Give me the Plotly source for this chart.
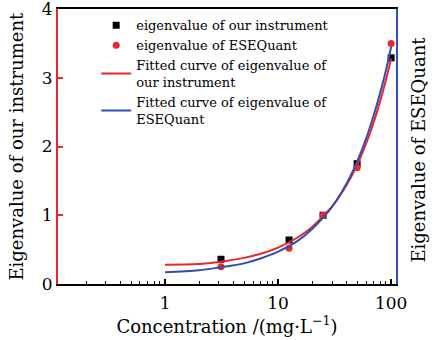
import plotly.graph_objects as go

# Measured points
conc = [3.125, 12.5, 25, 50, 100]
our_instrument = [0.36, 0.64, 1.00, 1.75, 3.29]
esequant = [0.25, 0.52, 1.00, 1.69, 3.50]

# Fitted curves
fit_x = [1, 2, 3, 5, 7, 10, 15, 20, 30, 40, 50, 60, 70, 80, 90, 100]
fit_our = [0.28, 0.29, 0.32, 0.38, 0.44, 0.53, 0.68, 0.83, 1.13, 1.43, 1.73, 2.04, 2.35, 2.66, 2.97, 3.28]
fit_ese = [0.17, 0.20, 0.24, 0.30, 0.37, 0.47, 0.63, 0.80, 1.12, 1.45, 1.78, 2.11, 2.45, 2.78, 3.11, 3.45]
y_ticks = [0, 1, 2, 3, 4]

RED = "#e8262b"
BLUE = "#2f4fb5"
FONT = "DejaVu Serif, Liberation Serif, serif"

fig = go.Figure()
fig.add_trace(go.Scatter(x=conc, y=our_instrument, mode="markers",
                         marker=dict(symbol="square", size=7, color="black"),
                         name="eigenvalue of our instrument"))
fig.add_trace(go.Scatter(x=conc, y=esequant, mode="markers",
                         marker=dict(symbol="circle", size=7, color=RED),
                         name="eigenvalue of ESEQuant"))
fig.add_trace(go.Scatter(x=fit_x, y=fit_our, mode="lines", line=dict(color=RED, width=2, shape="spline"),
                         name="Fitted curve of eigenvalue of<br>our instrument"))
fig.add_trace(go.Scatter(x=fit_x, y=fit_ese, mode="lines", line=dict(color=BLUE, width=2, shape="spline"),
                         name="Fitted curve of eigenvalue of<br>ESEQuant", yaxis="y2"))

fig.update_layout(
    width=434, height=340,
    margin=dict(l=58, r=38, t=9, b=56),
    paper_bgcolor="white", plot_bgcolor="white",
    font=dict(family=FONT, color="black", size=14),
    showlegend=True,
    legend=dict(x=0.113, y=0.995, xanchor="left", yanchor="top",
                bgcolor="rgba(0,0,0,0)", font=dict(family=FONT, size=13, color="black"),
                tracegroupgap=0, itemwidth=30),
    xaxis=dict(type="log", range=[-0.947, 2.043], automargin=False,
               tickvals=[1, 10, 100], ticktext=["1", "10", "100"],
               ticks="inside", ticklen=5, tickwidth=1.5, tickcolor="black",
               ticklabelstandoff=3, ticklabeloverflow="allow",
               minor=dict(ticks="inside", ticklen=3, tickwidth=1, tickcolor="black",
                          tickvals=[0.2, 0.3, 0.4, 0.5, 0.6, 0.7, 0.8, 0.9,
                                    2, 3, 4, 5, 6, 7, 8, 9,
                                    20, 30, 40, 50, 60, 70, 80, 90]),
               showline=True, linecolor="black", linewidth=2, mirror=True,
               showgrid=False, zeroline=False,
               tickfont=dict(size=17, family=FONT),
               title=dict(text="Concentration /(mg·L<sup>−1</sup>)", font=dict(size=18, family=FONT), standoff=3)),
    yaxis=dict(range=[0, 4], tickmode="array", tickvals=y_ticks,
               ticktext=[str(v) for v in y_ticks], automargin=False,
               ticklabeloverflow="allow",
               ticks="inside", ticklen=5, tickwidth=1.5, tickcolor=RED,
               showline=True, linecolor=RED, linewidth=2,
               showgrid=False, zeroline=False,
               tickfont=dict(size=17, family=FONT),
               title=dict(text="")),
    yaxis2=dict(range=[0, 4], overlaying="y", side="right", automargin=False,
                showticklabels=False, ticks="",
                showline=True, linecolor=BLUE, linewidth=2,
                showgrid=False, zeroline=False),
    annotations=[
        dict(text="Eigenvalue of our instrument", xref="paper", yref="paper",
             x=-0.124, y=0.5, xanchor="center", yanchor="middle", textangle=-90,
             showarrow=False, font=dict(size=18, family=FONT, color="black")),
        dict(text="Eigenvalue of ESEQuant", xref="paper", yref="paper",
             x=1.066, y=0.49, xanchor="center", yanchor="middle", textangle=-90,
             showarrow=False, font=dict(size=18, family=FONT, color="black")),
    ],
)

fig.write_html("out.html", config={"displayModeBar": False},
               post_script="document.body.style.margin='0';document.body.style.padding='0';")
